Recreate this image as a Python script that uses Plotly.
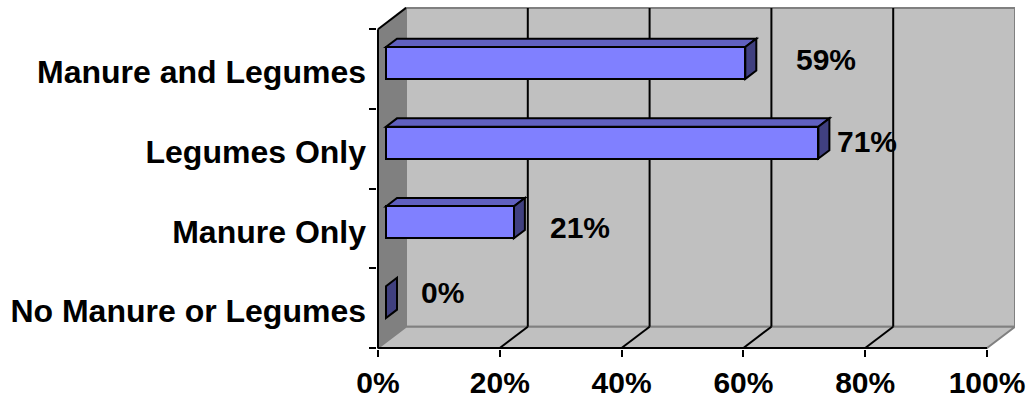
import plotly.graph_objects as go

# ---- data -------------------------------------------------------------
categories = ["No Manure or Legumes", "Manure Only", "Legumes Only", "Manure and Legumes"]
values = [0, 21, 71, 59]
x_ticks = [0, 20, 40, 60, 80, 100]
x_tick_labels = ["0%", "20%", "40%", "60%", "80%", "100%"]

# ---- value-label nudges in pixels (same order as categories) -----------
label_xshift = [56, 66, 49, 81]
label_yshift = [9.5, -5, 1.5, 3]

# ---- geometry of the oblique 3-D box ----------------------------------
W, H = 1031, 405
ML, MR, MT, MB = 377, 16, 6, 53
PX_X = 6.09            # pixels per percent on the front plane
PX_Y = 80.4            # pixels per category slot
DX = 28 / PX_X         # full depth of the box, in x units
DY = 21.5 / PX_Y       # full depth of the box, in category units
F_FRONT = 8 / 28       # depth fraction of the bars' front faces
F_BACK = 19 / 28       # depth fraction of the bars' back faces
HALF = 0.2             # half bar thickness, category units

plot_w = W - ML - MR
plot_h = H - MT - MB
x_lo = -1 / PX_X
x_hi = x_lo + plot_w / PX_X
y_lo = -0.5 - 1 / PX_Y
y_hi = y_lo + plot_h / PX_Y

X_MAX = x_ticks[-1]
Y_BOT, Y_TOP = -0.5, len(categories) - 0.5

FONT = "Liberation Sans, Arial, sans-serif"
WALL = "#C0C0C0"
SIDE_WALL = "#808080"
EDGE = "#808080"
FRONT = "#8080FF"
TOP = "#6060C0"
SIDE = "#404080"


def poly(pts, fill, line="rgba(0,0,0,0)", width=0):
    path = "M " + " L ".join(f"{x},{y}" for x, y in pts) + " Z"
    return dict(type="path", xref="x", yref="y", path=path, fillcolor=fill,
                line=dict(color=line, width=width), layer="below")


def seg(p, q, color, width):
    path = f"M {p[0]},{p[1]} L {q[0]},{q[1]}"
    return dict(type="path", xref="x", yref="y", path=path,
                line=dict(color=color, width=width), layer="below")


shapes = []
# side wall, back wall, floor
shapes.append(poly([(0, Y_BOT), (0, Y_TOP), (DX, Y_TOP + DY), (DX, Y_BOT + DY)], SIDE_WALL))
shapes.append(poly([(DX, Y_BOT + DY), (X_MAX + DX, Y_BOT + DY),
                    (X_MAX + DX, Y_TOP + DY), (DX, Y_TOP + DY)], WALL, EDGE, 2))
shapes.append(poly([(0, Y_BOT), (X_MAX, Y_BOT), (X_MAX + DX, Y_BOT + DY), (DX, Y_BOT + DY)],
                   WALL, EDGE, 2))
# gridlines on the back wall and across the floor
for t in x_ticks[1:-1]:
    shapes.append(seg((t + DX, Y_BOT + DY), (t + DX, Y_TOP + DY), "black", 2))
    shapes.append(seg((t, Y_BOT), (t + DX, Y_BOT + DY), "black", 2))
# front edges of the box
shapes.append(seg((0, Y_TOP), (DX, Y_TOP + DY), "black", 2))
shapes.append(seg((0, Y_BOT), (0, Y_TOP), "black", 2))
shapes.append(seg((0, Y_BOT), (X_MAX, Y_BOT), "black", 2))

# top and side faces of each bar
x0f, x0b = F_FRONT * DX, F_BACK * DX
lift = (F_BACK - F_FRONT) * DY
for i, v in enumerate(values):
    yb = i - HALF + F_FRONT * DY
    yt = i + HALF + F_FRONT * DY
    if v > 0:
        shapes.append(poly([(x0f, yt), (v + x0f, yt), (v + x0b, yt + lift), (x0b, yt + lift)],
                           TOP, "black", 2))
    shapes.append(poly([(v + x0f, yb), (v + x0f, yt), (v + x0b, yt + lift), (v + x0b, yb + lift)],
                       SIDE, "black", 2))

fig = go.Figure()
fig.add_trace(go.Bar(
    y=categories, x=values, orientation="h",
    base=x0f, width=2 * HALF, offset=-HALF + F_FRONT * DY,
    marker=dict(color=FRONT, line=dict(color="black", width=2)),
    hoverinfo="skip", showlegend=False,
))

annotations = []
for i, v in enumerate(values):
    annotations.append(dict(
        x=v + x0f, y=i + F_FRONT * DY, xref="x", yref="y",
        text=f"{v}%", showarrow=False, xanchor="center", yanchor="middle",
        xshift=label_xshift[i], yshift=label_yshift[i],
        font=dict(family=FONT, size=30, color="black", weight="bold"),
    ))

fig.update_layout(
    width=W, height=H, autosize=False,
    margin=dict(l=ML, r=MR, t=MT, b=MB, pad=0),
    paper_bgcolor="white", plot_bgcolor="white",
    shapes=shapes, annotations=annotations,
    xaxis=dict(
        range=[x_lo, x_hi], tickmode="array", tickvals=x_ticks, ticktext=x_tick_labels,
        ticks="outside", ticklen=7, tickwidth=2, tickcolor="black",
        showgrid=False, zeroline=False, showline=False, fixedrange=True,
        tickfont=dict(family=FONT, size=30, color="black", weight="bold"),
    ),
    yaxis=dict(
        type="category", categoryorder="array", categoryarray=categories,
        range=[y_lo, y_hi], tickson="boundaries",
        ticks="outside", ticklen=7, tickwidth=2, tickcolor="black",
        ticklabelstandoff=10, ticklabelshift=3,
        showgrid=False, zeroline=False, showline=False, fixedrange=True,
        tickfont=dict(family=FONT, size=32, color="black", weight="bold"),
    ),
    bargap=0,
)

fig.write_html("out.html")
